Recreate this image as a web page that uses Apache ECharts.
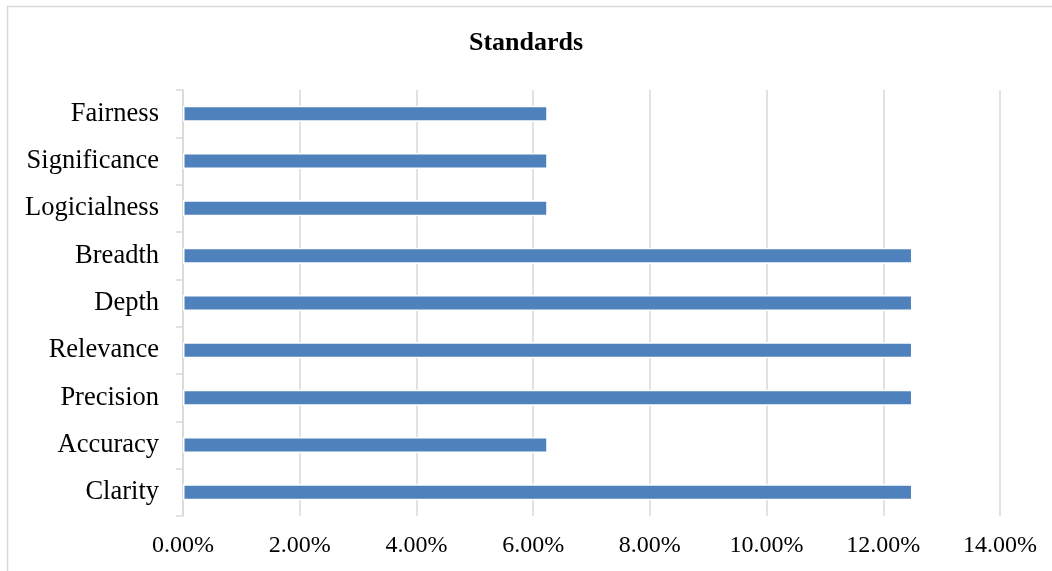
<!DOCTYPE html>
<html>
<head>
<meta charset="utf-8">
<script src="https://cdn.jsdelivr.net/npm/echarts@6/dist/echarts.min.js"></script>
<style>
  html, body { margin: 0; padding: 0; background: #fff; }
  #chart { width: 1052px; height: 571px; }
</style>
</head>
<body>
<div id="chart"></div>
<script>
// categories from bottom to top, as drawn
const categories = ['Clarity', 'Accuracy', 'Precision', 'Relevance', 'Depth', 'Breadth', 'Logicialness', 'Significance', 'Fairness']
const shares = [0.125, 0.0625, 0.125, 0.125, 0.125, 0.125, 0.0625, 0.0625, 0.0625]
const axisMin = 0
const axisMax = 0.14
const axisStep = 0.02

const font = '"Liberation Serif", "Times New Roman", serif'
const chart = echarts.init(document.getElementById('chart'))

chart.setOption({
  animation: false,
  backgroundColor: '#fff',
  title: {
    text: 'Standards',
    left: 'center',
    top: 25,
    textStyle: { fontFamily: font, fontSize: 26, fontWeight: 'bold', color: '#000' }
  },
  graphic: [{
    type: 'rect',
    shape: { x: 7.5, y: 6.5, width: 1100, height: 600 },
    style: { fill: null, stroke: '#d9d9d9', lineWidth: 1.5 },
    silent: true
  }],
  grid: { left: 183, right: 52, top: 90, bottom: 55 },
  xAxis: {
    type: 'value',
    min: axisMin,
    max: axisMax,
    interval: axisStep,
    axisLine: { show: false },
    axisTick: { show: false },
    axisLabel: {
      fontFamily: font, fontSize: 24, color: '#000', margin: 18,
      formatter: v => (v * 100).toFixed(2) + '%'
    },
    splitLine: { lineStyle: { color: '#d9d9d9', width: 1.5 } }
  },
  yAxis: {
    type: 'category',
    data: categories,
    axisLine: { lineStyle: { color: '#d9d9d9', width: 1.5 } },
    axisTick: { show: true, length: 7, lineStyle: { color: '#d9d9d9', width: 1.5 } },
    axisLabel: { fontFamily: font, fontSize: 26.5, color: '#000', margin: 24 }
  },
  series: [{
    type: 'bar',
    data: shares,
    barWidth: 16,
    itemStyle: { color: '#4f81bd', borderColor: '#fff', borderWidth: 1.5 }
  }]
})
</script>
</body>
</html>
